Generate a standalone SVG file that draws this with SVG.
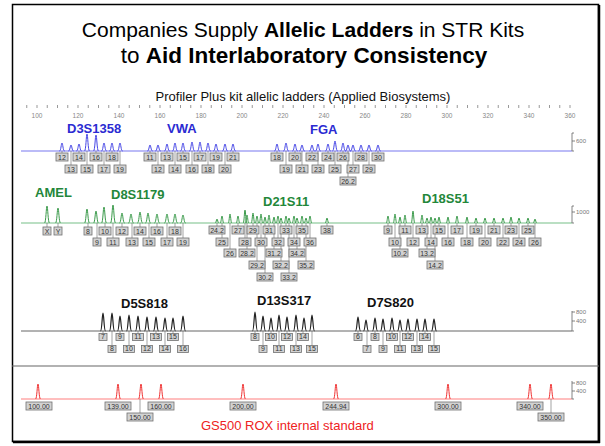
<svg xmlns="http://www.w3.org/2000/svg" width="605" height="446" viewBox="0 0 605 446">
<style>
.t{font-family:"Liberation Sans",Arial,sans-serif}
.ttl{font-size:21px;fill:#000;text-anchor:middle}
.b{font-weight:bold}
.sub{font-size:13px;fill:#111;text-anchor:middle}
.ax{font-size:6.5px;fill:#888;text-anchor:middle}
.sc{font-size:6px;fill:#777}
.lb rect{fill:#d2d2d2;stroke:#707070;stroke-width:.8}
.lb text{font-family:"Liberation Sans",Arial,sans-serif;font-size:7px;fill:#333;text-anchor:middle}
.lb .loc{font-size:13px;font-weight:bold;text-anchor:start}
.lb .blue{fill:#2b2bd2}
.lb .green{fill:#23873a}
.lb .black{fill:#111}
.lb .std{font-size:13px;fill:#ee2222;text-anchor:start}
.drop{stroke:#666;stroke-width:.6;fill:none}
.pk{fill:none;stroke-width:1;stroke-linejoin:round}
.pkb{stroke:#4646e6}
.pkg{stroke:#3a9a4a}
.pkk{stroke:#222;stroke-width:1.2}
.pkr{stroke:#f03030}
.bar{stroke:#666;stroke-width:.8;fill:none}
</style>

<!-- outer frame and panel separator -->
<g id="frame">
  <rect x="12.5" y="4.5" width="586" height="437" fill="#fff" stroke="#000" stroke-width="1.5"/>
  <path d="M599,5V443M13,442H600" stroke="#000" stroke-width="2.5" fill="none"/>
  <path d="M12,366H599" stroke="#666" stroke-width="1.2"/>
</g>

<!-- headings -->
<g id="title">
  <text class="t ttl" x="303" y="37">Companies Supply <tspan class="b">Allelic Ladders</tspan> in STR Kits</text>
  <text class="t ttl" x="304" y="63" style="font-size:22.5px">to <tspan class="b">Aid Interlaboratory Consistency</tspan></text>
  <text class="t sub" x="303" y="101">Profiler Plus kit allelic ladders (Applied Biosystems)</text>
</g>

<!-- size axis in bp -->
<g id="axis">
  <path d="M26.75,105v3m10.25,-3v3m10.25,-3v3m10.25,-3v3m10.25,-3v3m10.25,-3v3m10.25,-3v3m10.25,-3v3m10.25,-3v3m10.25,-3v3m10.25,-3v3m10.25,-3v3m10.25,-3v3m10.25,-3v3m10.25,-3v3m10.25,-3v3m10.25,-3v3m10.25,-3v3m10.25,-3v3m10.25,-3v3m10.25,-3v3m10.25,-3v3m10.25,-3v3m10.25,-3v3m10.25,-3v3m10.25,-3v3m10.25,-3v3m10.25,-3v3m10.25,-3v3m10.25,-3v3m10.25,-3v3m10.25,-3v3m10.25,-3v3m10.25,-3v3m10.25,-3v3m10.25,-3v3m10.25,-3v3m10.25,-3v3m10.25,-3v3m10.25,-3v3m10.25,-3v3m10.25,-3v3m10.25,-3v3m10.25,-3v3m10.25,-3v3m10.25,-3v3m10.25,-3v3m10.25,-3v3m10.25,-3v3m10.25,-3v3m10.25,-3v3m10.25,-3v3m10.25,-3v3m10.25,-3v3" stroke="#999" stroke-width="1" fill="none"/>
  <g class="t ax">
    <text x="37" y="118">100</text><text x="78" y="118">120</text><text x="119" y="118">140</text><text x="160" y="118">160</text>
    <text x="201" y="118">180</text><text x="242" y="118">200</text><text x="283" y="118">220</text><text x="324" y="118">240</text>
    <text x="365" y="118">260</text><text x="406" y="118">280</text><text x="447" y="118">300</text><text x="488" y="118">320</text>
    <text x="529" y="118">340</text><text x="570" y="118">360</text>
  </g>
</g>

<!-- dye baselines and RFU scale bars -->
<g id="traces">
  <path d="M21,151H572" stroke="#a4a4f4" stroke-width="1.5"/>
  <path d="M21,223H572" stroke="#77c088" stroke-width="1.2"/>
  <path d="M21,331H572" stroke="#666" stroke-width="1"/>
  <path d="M21,399H572" stroke="#ffa8a8" stroke-width="1.5"/>
  <path class="bar" d="M572,133V151M572,133h2M572,141h3M572,151h2"/>
  <path class="bar" d="M572,206V223M572,206h2M572,212h3M572,223h2"/>
  <path class="bar" d="M572,311V331M572,312h3M572,321h3M572,331h2"/>
  <path class="bar" d="M572,381V399M572,383h3M572,391h3M572,399h2"/>
  <g class="t sc">
    <text x="576" y="143">600</text>
    <text x="576" y="214">1000</text>
    <text x="576" y="314">800</text><text x="576" y="323">400</text>
    <text x="576" y="385">800</text><text x="576" y="393">400</text>
  </g>
</g>

<!-- drop lines from peaks to allele labels -->
<g id="connectors" class="drop">
  <path d="M62,151V153M71,151V165M79,151V153M87,151V165M96,151V153M104,151V165M112,151V153M120,151V165"/>
  <path d="M150,151V153M158,151V165M167,151V153M175,151V165M183,151V153M192,151V165M200,151V153M208,151V165M216,151V153M225,151V165M233,151V153"/>
  <path d="M277,151V153M286,151V165M295,151V153M302,151V165M312,151V153M318,151V165M328,151V153M335,151V165M343,151V153M348,151V177M353,151V165M361,151V153M369,151V165M378,151V153"/>
  <path d="M47,223V227M58,223V227M88,223V227M97,223V238M105,223V227M113,223V238M122,223V227M132,223V238M140,223V227M149,223V238M157,223V227M167,223V238M175,223V227M183,223V238"/>
  <path d="M217,223V226M238,223V226M253,223V226M269,223V226M286,223V226M302,223V226M327,223V226M222,223V238M245,223V238M261,223V238M278,223V238M294,223V238M310,223V238M230,223V249M247,223V249M274,223V249M297,223V249M257,223V261M281,223V261M306,223V261M265,223V273M289,223V273"/>
  <path d="M388,223V226M405,223V226M422,223V226M439,223V226M457,223V226M476,223V226M494,223V226M511,223V226M528,223V226M395,223V238M413,223V238M431,223V238M448,223V238M467,223V238M485,223V238M503,223V238M519,223V238M535,223V238M400,223V249M427,223V249M435,223V261"/>
  <path d="M103,331V333.5M120,331V333.5M138,331V333.5M156,331V333.5M173,331V333.5M112,331V345.5M129,331V345.5M147,331V345.5M165,331V345.5M183,331V345.5"/>
  <path d="M255,331V333.5M271,331V333.5M287,331V333.5M303,331V333.5M263,331V345.5M279,331V345.5M296,331V345.5M312,331V345.5"/>
  <path d="M358,331V333.5M375,331V333.5M392,331V333.5M408,331V333.5M425,331V333.5M367,331V345.5M383,331V345.5M400,331V345.5M417,331V345.5M434,331V345.5"/>
  <path d="M140,399V413M551,399V413"/>
</g>

<!-- blue dye -->
<g id="D3S1358" class="lb">
  <text class="loc blue" x="67" y="133">D3S1358</text>
  <path class="pk pkb" d="M59.5,151c1.5,0 1.7,-8 2.5,-8s1,8 2.5,8M68.5,151c1.5,0 1.7,-6 2.5,-6s1,6 2.5,6M76.5,151c1.5,0 1.7,-7 2.5,-7s1,7 2.5,7M84.5,151c1.5,0 1.7,-17 2.5,-17s1,17 2.5,17M93.5,151c1.5,0 1.7,-16 2.5,-16s1,16 2.5,16M101.5,151c1.5,0 1.7,-8 2.5,-8s1,8 2.5,8M109.5,151c1.5,0 1.7,-8 2.5,-8s1,8 2.5,8M117.5,151c1.5,0 1.7,-8 2.5,-8s1,8 2.5,8"/>
  <rect x="56" y="153" width="12" height="8"/><text x="62" y="159.5">12</text>
  <rect x="65" y="165" width="12" height="8"/><text x="71" y="171.5">13</text>
  <rect x="73" y="153" width="12" height="8"/><text x="79" y="159.5">14</text>
  <rect x="81" y="165" width="12" height="8"/><text x="87" y="171.5">15</text>
  <rect x="90" y="153" width="12" height="8"/><text x="96" y="159.5">16</text>
  <rect x="98" y="165" width="12" height="8"/><text x="104" y="171.5">17</text>
  <rect x="106" y="153" width="12" height="8"/><text x="112" y="159.5">18</text>
  <rect x="114" y="165" width="12" height="8"/><text x="120" y="171.5">19</text>
</g>
<g id="VWA" class="lb">
  <text class="loc blue" x="167" y="133">VWA</text>
  <path class="pk pkb" d="M147.5,151c1.5,0 1.7,-6 2.5,-6s1,6 2.5,6M155.5,151c1.5,0 1.7,-6 2.5,-6s1,6 2.5,6M164.5,151c1.5,0 1.7,-7 2.5,-7s1,7 2.5,7M172.5,151c1.5,0 1.7,-8 2.5,-8s1,8 2.5,8M180.5,151c1.5,0 1.7,-8 2.5,-8s1,8 2.5,8M189.5,151c1.5,0 1.7,-9 2.5,-9s1,9 2.5,9M197.5,151c1.5,0 1.7,-9 2.5,-9s1,9 2.5,9M205.5,151c1.5,0 1.7,-8 2.5,-8s1,8 2.5,8M213.5,151c1.5,0 1.7,-7 2.5,-7s1,7 2.5,7M222.5,151c1.5,0 1.7,-7 2.5,-7s1,7 2.5,7M230.5,151c1.5,0 1.7,-7 2.5,-7s1,7 2.5,7"/>
  <rect x="144" y="153" width="12" height="8"/><text x="150" y="159.5">11</text>
  <rect x="152" y="165" width="12" height="8"/><text x="158" y="171.5">12</text>
  <rect x="161" y="153" width="12" height="8"/><text x="167" y="159.5">13</text>
  <rect x="169" y="165" width="12" height="8"/><text x="175" y="171.5">14</text>
  <rect x="177" y="153" width="12" height="8"/><text x="183" y="159.5">15</text>
  <rect x="186" y="165" width="12" height="8"/><text x="192" y="171.5">16</text>
  <rect x="194" y="153" width="12" height="8"/><text x="200" y="159.5">17</text>
  <rect x="202" y="165" width="12" height="8"/><text x="208" y="171.5">18</text>
  <rect x="210" y="153" width="12" height="8"/><text x="216" y="159.5">19</text>
  <rect x="219" y="165" width="12" height="8"/><text x="225" y="171.5">20</text>
  <rect x="227" y="153" width="12" height="8"/><text x="233" y="159.5">21</text>
</g>
<g id="FGA" class="lb">
  <text class="loc blue" x="310" y="134">FGA</text>
  <path class="pk pkb" d="M274.5,151c1.5,0 1.7,-7 2.5,-7s1,7 2.5,7M283.5,151c1.5,0 1.7,-8 2.5,-8s1,8 2.5,8M292.5,151c1.5,0 1.7,-7 2.5,-7s1,7 2.5,7M299.5,151c1.5,0 1.7,-6 2.5,-6s1,6 2.5,6M309.5,151c1.5,0 1.7,-6 2.5,-6s1,6 2.5,6M315.5,151c1.5,0 1.7,-7 2.5,-7s1,7 2.5,7M325.5,151c1.5,0 1.7,-7 2.5,-7s1,7 2.5,7M332.5,151c1.5,0 1.7,-10 2.5,-10s1,10 2.5,10M340.5,151c1.5,0 1.7,-8 2.5,-8s1,8 2.5,8M345.5,151c1.5,0 1.7,-6 2.5,-6s1,6 2.5,6M350.5,151c1.5,0 1.7,-6 2.5,-6s1,6 2.5,6M358.5,151c1.5,0 1.7,-6 2.5,-6s1,6 2.5,6M366.5,151c1.5,0 1.7,-6 2.5,-6s1,6 2.5,6M375.5,151c1.5,0 1.7,-6 2.5,-6s1,6 2.5,6"/>
  <rect x="271" y="153" width="12" height="8"/><text x="277" y="159.5">18</text>
  <rect x="280" y="165" width="12" height="8"/><text x="286" y="171.5">19</text>
  <rect x="289" y="153" width="12" height="8"/><text x="295" y="159.5">20</text>
  <rect x="296" y="165" width="12" height="8"/><text x="302" y="171.5">21</text>
  <rect x="306" y="153" width="12" height="8"/><text x="312" y="159.5">22</text>
  <rect x="312" y="165" width="12" height="8"/><text x="318" y="171.5">23</text>
  <rect x="322" y="153" width="12" height="8"/><text x="328" y="159.5">24</text>
  <rect x="329" y="165" width="12" height="8"/><text x="335" y="171.5">25</text>
  <rect x="337" y="153" width="12" height="8"/><text x="343" y="159.5">26</text>
  <rect x="347" y="165" width="12" height="8"/><text x="353" y="171.5">27</text>
  <rect x="355" y="153" width="12" height="8"/><text x="361" y="159.5">28</text>
  <rect x="363" y="165" width="12" height="8"/><text x="369" y="171.5">29</text>
  <rect x="372" y="153" width="12" height="8"/><text x="378" y="159.5">30</text>
  <rect x="340" y="177" width="16" height="8"/><text x="348" y="183.5">26.2</text>
</g>

<!-- green dye -->
<g id="AMEL" class="lb">
  <text class="loc green" x="35" y="197">AMEL</text>
  <path class="pk pkg" d="M44.5,223c1.5,0 1.7,-17 2.5,-17s1,17 2.5,17M55.5,223c1.5,0 1.7,-15 2.5,-15s1,15 2.5,15"/>
  <rect x="43" y="227" width="8" height="8"/><text x="47" y="233.5">X</text>
  <rect x="54" y="227" width="8" height="8"/><text x="58" y="233.5">Y</text>
</g>
<g id="D8S1179" class="lb">
  <text class="loc green" x="111" y="199">D8S1179</text>
  <path class="pk pkg" d="M84.5,223c1.5,0 1.7,-14 2.5,-14s1,14 2.5,14M93.5,223c1.5,0 1.7,-12 2.5,-12s1,12 2.5,12M101.5,223c1.5,0 1.7,-16 2.5,-16s1,16 2.5,16M110.5,223c1.5,0 1.7,-18 2.5,-18s1,18 2.5,18M119.5,223c1.5,0 1.7,-10 2.5,-10s1,10 2.5,10M128.5,223c1.5,0 1.7,-9 2.5,-9s1,9 2.5,9M137.5,223c1.5,0 1.7,-11 2.5,-11s1,11 2.5,11M145.5,223c1.5,0 1.7,-10 2.5,-10s1,10 2.5,10M154.5,223c1.5,0 1.7,-9 2.5,-9s1,9 2.5,9M164.5,223c1.5,0 1.7,-9 2.5,-9s1,9 2.5,9M172.5,223c1.5,0 1.7,-9 2.5,-9s1,9 2.5,9M180.5,223c1.5,0 1.7,-8 2.5,-8s1,8 2.5,8"/>
  <rect x="84" y="227" width="8" height="8"/><text x="88" y="233.5">8</text>
  <rect x="93" y="238" width="8" height="8"/><text x="97" y="244.5">9</text>
  <rect x="99" y="227" width="12" height="8"/><text x="105" y="233.5">10</text>
  <rect x="107" y="238" width="12" height="8"/><text x="113" y="244.5">11</text>
  <rect x="116" y="227" width="12" height="8"/><text x="122" y="233.5">12</text>
  <rect x="126" y="238" width="12" height="8"/><text x="132" y="244.5">13</text>
  <rect x="134" y="227" width="12" height="8"/><text x="140" y="233.5">14</text>
  <rect x="143" y="238" width="12" height="8"/><text x="149" y="244.5">15</text>
  <rect x="151" y="227" width="12" height="8"/><text x="157" y="233.5">16</text>
  <rect x="161" y="238" width="12" height="8"/><text x="167" y="244.5">17</text>
  <rect x="169" y="227" width="12" height="8"/><text x="175" y="233.5">18</text>
  <rect x="177" y="238" width="12" height="8"/><text x="183" y="244.5">19</text>
</g>
<g id="D21S11" class="lb">
  <text class="loc green" x="263" y="206">D21S11</text>
  <path class="pk pkg" d="M215.2,223c1,0 1.2,-4 1.8,-4s0.8,4 1.8,4M220.2,223c1,0 1.2,-7 1.8,-7s0.8,7 1.8,7M228.2,223c1,0 1.2,-9 1.8,-9s0.8,9 1.8,9M236.2,223c1,0 1.2,-7 1.8,-7s0.8,7 1.8,7M243.2,223c1,0 1.2,-13 1.8,-13s0.8,13 1.8,13M245.2,223c1,0 1.2,-8 1.8,-8s0.8,8 1.8,8M251.2,223c1,0 1.2,-10 1.8,-10s0.8,10 1.8,10M255.2,223c1,0 1.2,-7 1.8,-7s0.8,7 1.8,7M259.2,223c1,0 1.2,-9 1.8,-9s0.8,9 1.8,9M263.2,223c1,0 1.2,-6 1.8,-6s0.8,6 1.8,6M267.2,223c1,0 1.2,-8 1.8,-8s0.8,8 1.8,8M272.2,223c1,0 1.2,-6 1.8,-6s0.8,6 1.8,6M276.2,223c1,0 1.2,-7 1.8,-7s0.8,7 1.8,7M279.2,223c1,0 1.2,-5 1.8,-5s0.8,5 1.8,5M284.2,223c1,0 1.2,-7 1.8,-7s0.8,7 1.8,7M287.2,223c1,0 1.2,-5 1.8,-5s0.8,5 1.8,5M292.2,223c1,0 1.2,-7 1.8,-7s0.8,7 1.8,7M295.2,223c1,0 1.2,-5 1.8,-5s0.8,5 1.8,5M300.2,223c1,0 1.2,-7 1.8,-7s0.8,7 1.8,7M304.2,223c1,0 1.2,-5 1.8,-5s0.8,5 1.8,5M308.2,223c1,0 1.2,-7 1.8,-7s0.8,7 1.8,7M325.2,223c1,0 1.2,-5 1.8,-5s0.8,5 1.8,5"/>
  <rect x="209" y="226" width="16" height="8"/><text x="217" y="232.5">24.2</text>
  <rect x="232" y="226" width="12" height="8"/><text x="238" y="232.5">27</text>
  <rect x="247" y="226" width="12" height="8"/><text x="253" y="232.5">29</text>
  <rect x="263" y="226" width="12" height="8"/><text x="269" y="232.5">31</text>
  <rect x="280" y="226" width="12" height="8"/><text x="286" y="232.5">33</text>
  <rect x="296" y="226" width="12" height="8"/><text x="302" y="232.5">35</text>
  <rect x="321" y="226" width="12" height="8"/><text x="327" y="232.5">38</text>
  <rect x="216" y="238" width="12" height="8"/><text x="222" y="244.5">25</text>
  <rect x="239" y="238" width="12" height="8"/><text x="245" y="244.5">28</text>
  <rect x="255" y="238" width="12" height="8"/><text x="261" y="244.5">30</text>
  <rect x="272" y="238" width="12" height="8"/><text x="278" y="244.5">32</text>
  <rect x="288" y="238" width="12" height="8"/><text x="294" y="244.5">34</text>
  <rect x="304" y="238" width="12" height="8"/><text x="310" y="244.5">36</text>
  <rect x="224" y="249" width="12" height="8"/><text x="230" y="255.5">26</text>
  <rect x="239" y="249" width="16" height="8"/><text x="247" y="255.5">28.2</text>
  <rect x="266" y="249" width="16" height="8"/><text x="274" y="255.5">31.2</text>
  <rect x="289" y="249" width="16" height="8"/><text x="297" y="255.5">34.2</text>
  <rect x="249" y="261" width="16" height="8"/><text x="257" y="267.5">29.2</text>
  <rect x="273" y="261" width="16" height="8"/><text x="281" y="267.5">32.2</text>
  <rect x="298" y="261" width="16" height="8"/><text x="306" y="267.5">35.2</text>
  <rect x="257" y="273" width="16" height="8"/><text x="265" y="279.5">30.2</text>
  <rect x="281" y="273" width="16" height="8"/><text x="289" y="279.5">33.2</text>
</g>
<g id="D18S51" class="lb">
  <text class="loc green" x="422" y="203">D18S51</text>
  <path class="pk pkg" d="M386.2,223c1,0 1.2,-7 1.8,-7s0.8,7 1.8,7M393.2,223c1,0 1.2,-9 1.8,-9s0.8,9 1.8,9M398.2,223c1,0 1.2,-6 1.8,-6s0.8,6 1.8,6M403.2,223c1,0 1.2,-8 1.8,-8s0.8,8 1.8,8M411.2,223c1,0 1.2,-12 1.8,-12s0.8,12 1.8,12M420.2,223c1,0 1.2,-8 1.8,-8s0.8,8 1.8,8M425.2,223c1,0 1.2,-5 1.8,-5s0.8,5 1.8,5M429.2,223c1,0 1.2,-6 1.8,-6s0.8,6 1.8,6M433.2,223c1,0 1.2,-5 1.8,-5s0.8,5 1.8,5M437.2,223c1,0 1.2,-6 1.8,-6s0.8,6 1.8,6M446.2,223c1,0 1.2,-6 1.8,-6s0.8,6 1.8,6M455.2,223c1,0 1.2,-7 1.8,-7s0.8,7 1.8,7M465.2,223c1,0 1.2,-6 1.8,-6s0.8,6 1.8,6M474.2,223c1,0 1.2,-5 1.8,-5s0.8,5 1.8,5M483.2,223c1,0 1.2,-5 1.8,-5s0.8,5 1.8,5M492.2,223c1,0 1.2,-5 1.8,-5s0.8,5 1.8,5M501.2,223c1,0 1.2,-5 1.8,-5s0.8,5 1.8,5M509.2,223c1,0 1.2,-6 1.8,-6s0.8,6 1.8,6M517.2,223c1,0 1.2,-5 1.8,-5s0.8,5 1.8,5M526.2,223c1,0 1.2,-5 1.8,-5s0.8,5 1.8,5M533.2,223c1,0 1.2,-4 1.8,-4s0.8,4 1.8,4"/>
  <rect x="384" y="226" width="8" height="8"/><text x="388" y="232.5">9</text>
  <rect x="399" y="226" width="12" height="8"/><text x="405" y="232.5">11</text>
  <rect x="416" y="226" width="12" height="8"/><text x="422" y="232.5">13</text>
  <rect x="433" y="226" width="12" height="8"/><text x="439" y="232.5">15</text>
  <rect x="451" y="226" width="12" height="8"/><text x="457" y="232.5">17</text>
  <rect x="470" y="226" width="12" height="8"/><text x="476" y="232.5">19</text>
  <rect x="488" y="226" width="12" height="8"/><text x="494" y="232.5">21</text>
  <rect x="505" y="226" width="12" height="8"/><text x="511" y="232.5">23</text>
  <rect x="522" y="226" width="12" height="8"/><text x="528" y="232.5">25</text>
  <rect x="389" y="238" width="12" height="8"/><text x="395" y="244.5">10</text>
  <rect x="407" y="238" width="12" height="8"/><text x="413" y="244.5">12</text>
  <rect x="425" y="238" width="12" height="8"/><text x="431" y="244.5">14</text>
  <rect x="442" y="238" width="12" height="8"/><text x="448" y="244.5">16</text>
  <rect x="461" y="238" width="12" height="8"/><text x="467" y="244.5">18</text>
  <rect x="479" y="238" width="12" height="8"/><text x="485" y="244.5">20</text>
  <rect x="497" y="238" width="12" height="8"/><text x="503" y="244.5">22</text>
  <rect x="513" y="238" width="12" height="8"/><text x="519" y="244.5">24</text>
  <rect x="529" y="238" width="12" height="8"/><text x="535" y="244.5">26</text>
  <rect x="392" y="249" width="16" height="8"/><text x="400" y="255.5">10.2</text>
  <rect x="419" y="249" width="16" height="8"/><text x="427" y="255.5">13.2</text>
  <rect x="427" y="261" width="16" height="8"/><text x="435" y="267.5">14.2</text>
</g>

<!-- yellow dye (drawn black) -->
<g id="D5S818" class="lb">
  <text class="loc black" x="121" y="308">D5S818</text>
  <path class="pk pkk" d="M100.5,331c1.5,0 1.7,-18 2.5,-18s1,18 2.5,18M109.5,331c1.5,0 1.7,-18 2.5,-18s1,18 2.5,18M117.5,331c1.5,0 1.7,-15 2.5,-15s1,15 2.5,15M126.5,331c1.5,0 1.7,-16 2.5,-16s1,16 2.5,16M135.5,331c1.5,0 1.7,-15 2.5,-15s1,15 2.5,15M144.5,331c1.5,0 1.7,-14 2.5,-14s1,14 2.5,14M153.5,331c1.5,0 1.7,-14 2.5,-14s1,14 2.5,14M162.5,331c1.5,0 1.7,-13 2.5,-13s1,13 2.5,13M170.5,331c1.5,0 1.7,-13 2.5,-13s1,13 2.5,13M180.5,331c1.5,0 1.7,-15 2.5,-15s1,15 2.5,15"/>
  <rect x="99" y="333.5" width="8" height="7"/><text x="103" y="339.4">7</text>
  <rect x="116" y="333.5" width="8" height="7"/><text x="120" y="339.4">9</text>
  <rect x="132.5" y="333.5" width="11" height="7"/><text x="138" y="339.4">11</text>
  <rect x="150.5" y="333.5" width="11" height="7"/><text x="156" y="339.4">13</text>
  <rect x="167.5" y="333.5" width="11" height="7"/><text x="173" y="339.4">15</text>
  <rect x="108" y="345.5" width="8" height="7"/><text x="112" y="351.4">8</text>
  <rect x="123.5" y="345.5" width="11" height="7"/><text x="129" y="351.4">10</text>
  <rect x="141.5" y="345.5" width="11" height="7"/><text x="147" y="351.4">12</text>
  <rect x="159.5" y="345.5" width="11" height="7"/><text x="165" y="351.4">14</text>
  <rect x="177.5" y="345.5" width="11" height="7"/><text x="183" y="351.4">16</text>
</g>
<g id="D13S317" class="lb">
  <text class="loc black" x="257" y="305">D13S317</text>
  <path class="pk pkk" d="M252.5,331c1.5,0 1.7,-19 2.5,-19s1,19 2.5,19M260.5,331c1.5,0 1.7,-15 2.5,-15s1,15 2.5,15M268.5,331c1.5,0 1.7,-13 2.5,-13s1,13 2.5,13M276.5,331c1.5,0 1.7,-16 2.5,-16s1,16 2.5,16M284.5,331c1.5,0 1.7,-14 2.5,-14s1,14 2.5,14M293.5,331c1.5,0 1.7,-16 2.5,-16s1,16 2.5,16M301.5,331c1.5,0 1.7,-13 2.5,-13s1,13 2.5,13M309.5,331c1.5,0 1.7,-16 2.5,-16s1,16 2.5,16"/>
  <rect x="251" y="333.5" width="8" height="7"/><text x="255" y="339.4">8</text>
  <rect x="265.5" y="333.5" width="11" height="7"/><text x="271" y="339.4">10</text>
  <rect x="281.5" y="333.5" width="11" height="7"/><text x="287" y="339.4">12</text>
  <rect x="297.5" y="333.5" width="11" height="7"/><text x="303" y="339.4">14</text>
  <rect x="259" y="345.5" width="8" height="7"/><text x="263" y="351.4">9</text>
  <rect x="273.5" y="345.5" width="11" height="7"/><text x="279" y="351.4">11</text>
  <rect x="290.5" y="345.5" width="11" height="7"/><text x="296" y="351.4">13</text>
  <rect x="306.5" y="345.5" width="11" height="7"/><text x="312" y="351.4">15</text>
</g>
<g id="D7S820" class="lb">
  <text class="loc black" x="367" y="307">D7S820</text>
  <path class="pk pkk" d="M355.5,331c1.5,0 1.7,-14 2.5,-14s1,14 2.5,14M363.5,331c1.5,0 1.7,-11 2.5,-11s1,11 2.5,11M372.5,331c1.5,0 1.7,-13 2.5,-13s1,13 2.5,13M380.5,331c1.5,0 1.7,-12 2.5,-12s1,12 2.5,12M389.5,331c1.5,0 1.7,-13 2.5,-13s1,13 2.5,13M397.5,331c1.5,0 1.7,-11 2.5,-11s1,11 2.5,11M405.5,331c1.5,0 1.7,-12 2.5,-12s1,12 2.5,12M414.5,331c1.5,0 1.7,-12 2.5,-12s1,12 2.5,12M422.5,331c1.5,0 1.7,-12 2.5,-12s1,12 2.5,12M431.5,331c1.5,0 1.7,-12 2.5,-12s1,12 2.5,12"/>
  <rect x="354" y="333.5" width="8" height="7"/><text x="358" y="339.4">6</text>
  <rect x="371" y="333.5" width="8" height="7"/><text x="375" y="339.4">8</text>
  <rect x="386.5" y="333.5" width="11" height="7"/><text x="392" y="339.4">10</text>
  <rect x="402.5" y="333.5" width="11" height="7"/><text x="408" y="339.4">12</text>
  <rect x="419.5" y="333.5" width="11" height="7"/><text x="425" y="339.4">14</text>
  <rect x="363" y="345.5" width="8" height="7"/><text x="367" y="351.4">7</text>
  <rect x="379" y="345.5" width="8" height="7"/><text x="383" y="351.4">9</text>
  <rect x="394.5" y="345.5" width="11" height="7"/><text x="400" y="351.4">11</text>
  <rect x="411.5" y="345.5" width="11" height="7"/><text x="417" y="351.4">13</text>
  <rect x="428.5" y="345.5" width="11" height="7"/><text x="434" y="351.4">15</text>
</g>

<!-- red dye: size standard -->
<g id="GS500" class="lb">
  <path class="pk pkr" d="M35.5,399c1.5,0 1.7,-15 2.5,-15s1,15 2.5,15M115.5,399c1.5,0 1.7,-15 2.5,-15s1,15 2.5,15M138.5,399c1.5,0 1.7,-15 2.5,-15s1,15 2.5,15M158.5,399c1.5,0 1.7,-15 2.5,-15s1,15 2.5,15M240.5,399c1.5,0 1.7,-15 2.5,-15s1,15 2.5,15M333.5,399c1.5,0 1.7,-15 2.5,-15s1,15 2.5,15M445.5,399c1.5,0 1.7,-15 2.5,-15s1,15 2.5,15M527.5,399c1.5,0 1.7,-15 2.5,-15s1,15 2.5,15M548.5,399c1.5,0 1.7,-15 2.5,-15s1,15 2.5,15"/>
  <rect x="26" y="402" width="26" height="8"/><text x="39" y="408.5">100.00</text>
  <rect x="105" y="402" width="26" height="8"/><text x="118" y="408.5">139.00</text>
  <rect x="148" y="402" width="26" height="8"/><text x="161" y="408.5">160.00</text>
  <rect x="230" y="402" width="26" height="8"/><text x="243" y="408.5">200.00</text>
  <rect x="323" y="402" width="26" height="8"/><text x="336" y="408.5">244.94</text>
  <rect x="435" y="402" width="26" height="8"/><text x="448" y="408.5">300.00</text>
  <rect x="517" y="402" width="26" height="8"/><text x="530" y="408.5">340.00</text>
  <rect x="127" y="413" width="26" height="8"/><text x="140" y="419.5">150.00</text>
  <rect x="538" y="413" width="26" height="8"/><text x="551" y="419.5">350.00</text>
  <text class="std" x="201" y="430">GS500 ROX internal standard</text>
</g>
</svg>
